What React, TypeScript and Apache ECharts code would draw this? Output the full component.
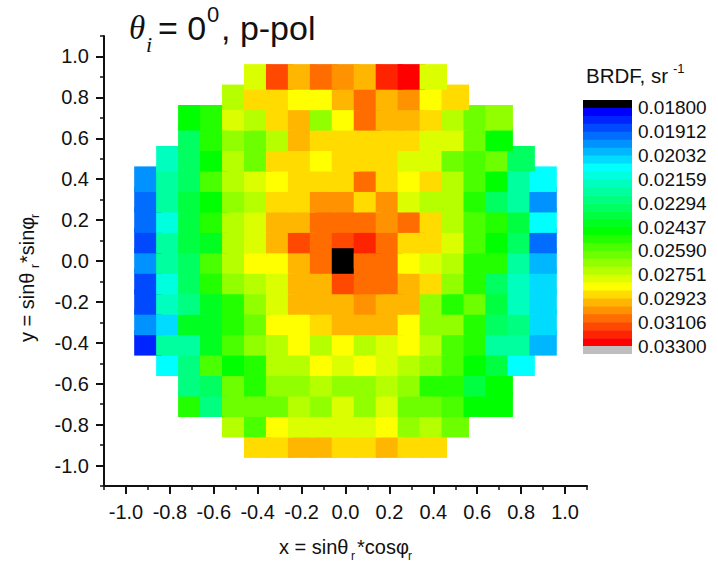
import React, { useEffect, useRef } from "react";
import * as echarts from "echarts";

// BRDF values in units of 1e-5 sr^-1, one list per scan row, centred on x = 0, step 0.1
const rowP09 = [2779, 3138, 2953, 3075, 3013, 2953, 3202, 3267, 2779];
const rowP08 = [2724, 2894, 2894, 2836, 2836, 2953, 3075, 2953, 3013, 2836, 2894];
const rowP07 = [2462, 2512, 2779, 2724, 2894, 2953, 2669, 2836, 3075, 2953, 2953, 2894, 2724, 2616, 2669];
const rowP06 = [2317, 2512, 2669, 2616, 2724, 2953, 2894, 2894, 2894, 2894, 2894, 2779, 2779, 2616, 2462];
const rowP05 = [2181, 2317, 2462, 2724, 2616, 2894, 2894, 2836, 2894, 2894, 2894, 2779, 2779, 2616, 2564, 2616, 2317];
const rowP04 = [1971, 2225, 2317, 2564, 2724, 2779, 2836, 2894, 2894, 2894, 3075, 2894, 2836, 2894, 2724, 2564, 2462, 2225, 2095];
const rowP03 = [1932, 2225, 2365, 2462, 2669, 2724, 2894, 2894, 3013, 3013, 2894, 3013, 2779, 2724, 2724, 2512, 2317, 2225, 1971];
const rowP02 = [1932, 2137, 2365, 2512, 2724, 2779, 2953, 2953, 3075, 3075, 3075, 3013, 3075, 2894, 2724, 2564, 2512, 2365, 2095];
const rowP01 = [1893, 2225, 2365, 2413, 2724, 2779, 2953, 3138, 3075, 3138, 3202, 3075, 2894, 2894, 2779, 2564, 2462, 2317, 1932];
const rowZ00 = [1971, 2225, 2317, 2564, 2724, 2836, 2836, 2953, 3075, 1700, 3075, 3075, 2836, 2779, 2724, 2512, 2512, 2225, 2012];
const rowM01 = [1893, 2137, 2317, 2512, 2669, 2724, 2779, 2953, 2953, 3138, 3075, 3075, 2953, 2894, 2669, 2512, 2317, 2181, 2053];
const rowM02 = [1893, 2181, 2271, 2413, 2512, 2669, 2779, 2953, 2953, 2953, 3013, 2953, 2953, 2669, 2512, 2616, 2365, 2181, 2053];
const rowM03 = [1971, 2053, 2413, 2413, 2512, 2616, 2836, 2836, 2894, 2953, 2953, 2953, 2836, 2669, 2669, 2512, 2317, 2271, 2053];
const rowM04 = [1855, 2225, 2225, 2413, 2564, 2669, 2724, 2836, 2724, 2836, 2724, 2779, 2836, 2724, 2564, 2512, 2225, 2225, 2012];
const rowM05 = [2095, 2271, 2564, 2462, 2512, 2724, 2724, 2836, 2779, 2836, 2779, 2724, 2669, 2564, 2462, 2365, 2095];
const rowM06 = [2271, 2317, 2616, 2512, 2669, 2669, 2724, 2669, 2669, 2724, 2669, 2512, 2512, 2365, 2462];
const rowM07 = [2512, 2271, 2616, 2616, 2616, 2724, 2669, 2779, 2669, 2779, 2616, 2616, 2564, 2462, 2462];
const rowM08 = [2724, 2564, 2836, 2779, 2779, 2779, 2779, 2836, 2669, 2724, 2616];
const rowM09 = [2894, 2894, 2953, 2953, 2894, 2894, 2953, 2894, 2894];

// bottom row first: later rows paint over the upper overhang of earlier ones
const rowsBottomUp = [rowM09, rowM08, rowM07, rowM06, rowM05, rowM04, rowM03, rowM02, rowM01, rowZ00, rowP01, rowP02, rowP03, rowP04, rowP05, rowP06, rowP07, rowP08, rowP09];
const rowY = [-0.9, -0.8, -0.7, -0.6, -0.5, -0.4, -0.3, -0.2, -0.1, 0, 0.1, 0.2, 0.3, 0.4, 0.5, 0.6, 0.7, 0.8, 0.9];

const majorTicks = [-1, -0.8, -0.6, -0.4, -0.2, 0, 0.2, 0.4, 0.6, 0.8, 1];
const scaleLabels = ["0.01800", "0.01912", "0.02032", "0.02159", "0.02294", "0.02437", "0.02590", "0.02751", "0.02923", "0.03106", "0.03300"];
const scaleLabelAt = [1, 4, 7, 10, 13, 16, 19, 22, 25, 28, 31];
const palette = [
  "#0000ff", "#0024ff", "#0049ff", "#006dff", "#0092ff", "#00b6ff", "#00dbff", "#00ffff",
  "#00ffdf", "#00ffbf", "#00ff9f", "#00ff80", "#00ff60", "#00ff40", "#00ff20", "#00ff00",
  "#24ff00", "#49ff00", "#6dff00", "#92ff00", "#b6ff00", "#dbff00", "#ffff00", "#ffdb00",
  "#ffb600", "#ff9200", "#ff6d00", "#ff4900", "#ff2400", "#ff0000",
];
const belowColor = "#000000";
const aboveColor = "#bebebe";
const scaleMin = 0.018;
const scaleMax = 0.033;

const colourOf = (v: number) => {
  if (v < scaleMin) return belowColor;
  if (v > scaleMax) return aboveColor;
  const i = Math.floor((Math.log(v / scaleMin) / Math.log(scaleMax / scaleMin)) * palette.length);
  return palette[Math.min(i, palette.length - 1)];
};

const cells: number[][] = [];
const blackCells: number[][] = [];
rowsBottomUp.forEach((row, r) => {
  row.forEach((v, i) => {
    const item = [(i - (row.length - 1) / 2) / 10, rowY[r], v / 1e5];
    (v / 1e5 < scaleMin ? blackCells : cells).push(item);
  });
});
const plotted = [...cells, ...blackCells];
const bandColours = [belowColor, ...palette, aboveColor];
const bands = bandColours.map((_, i) => [0, i]);

const HALF = 0.0625;
const STEP_VISIBLE = 0.0375;

const FONT = "'Liberation Sans', Arial, sans-serif";
const INK = "#111111";

// x, baseline y in picture pixels; text is placed by its top
const label = (text: string, x: number, y: number, size: number, extra: any = {}) => ({
  type: "text",
  x,
  y: y - size * 0.88,
  silent: true,
  style: { text, fontSize: size, fontFamily: FONT, fill: INK, ...extra },
});

const serifItalic = { fontFamily: "'Liberation Serif', 'Times New Roman', serif", fontStyle: "italic" };

const baseAxis = {
  type: "value" as const,
  min: -1.1,
  max: 1.1,
  splitLine: { show: false },
};

export default function App() {
  const ref = useRef<HTMLDivElement>(null);
  useEffect(() => {
    document.body.style.margin = "0";
    document.body.style.background = "#ffffff";
    const chart = echarts.init(ref.current!, undefined, { renderer: "svg" });
    const majorLine = { show: true, onZero: false, lineStyle: { color: INK, width: 2 } };
    const majorTick = { show: true, length: 8, customValues: majorTicks, lineStyle: { color: INK, width: 2 } };
    const minorTick = { show: true, length: 4, lineStyle: { color: INK, width: 1.5 } };
    const tickLabel = {
      show: true,
      customValues: majorTicks,
      fontSize: 20,
      fontFamily: FONT,
      color: INK,
      formatter: (v: number) => v.toFixed(1),
    };
    chart.setOption({
      animation: false,
      backgroundColor: "#ffffff",
      grid: [
        { left: 104, top: 36, width: 483, height: 450, containLabel: false },
        { left: 583, top: 100, width: 49, height: 254, containLabel: false },
      ],
      xAxis: [
        { ...baseAxis, gridIndex: 0, position: "bottom", axisLine: majorLine, axisTick: majorTick, axisLabel: { ...tickLabel, margin: 16 } },
        { ...baseAxis, gridIndex: 0, position: "bottom", interval: 0.1, axisLine: { show: false, onZero: false }, axisTick: minorTick, axisLabel: { show: false } },
        { type: "value", gridIndex: 1, min: 0, max: 1, show: false, splitLine: { show: false } },
      ],
      yAxis: [
        { ...baseAxis, gridIndex: 0, position: "left", axisLine: majorLine, axisTick: majorTick, axisLabel: { ...tickLabel, margin: 15 } },
        { ...baseAxis, gridIndex: 0, position: "left", interval: 0.1, axisLine: { show: false, onZero: false }, axisTick: minorTick, axisLabel: { show: false } },
        {
          type: "value",
          gridIndex: 1,
          min: 0,
          max: bandColours.length,
          inverse: true,
          position: "right",
          splitLine: { show: false },
          axisLine: { show: false },
          axisTick: { show: false },
          axisLabel: {
            show: true,
            customValues: scaleLabelAt,
            margin: 6,
            padding: [8, 0, 0, 0],
            fontSize: 19,
            fontFamily: FONT,
            color: INK,
            formatter: (v: number) => scaleLabels[scaleLabelAt.indexOf(Math.round(v))] ?? "",
          },
        },
      ],
      series: [
        {
          type: "custom",
          xAxisIndex: 0,
          yAxisIndex: 0,
          coordinateSystem: "cartesian2d",
          clip: false,
          silent: true,
          encode: { x: 0, y: 1 },
          data: plotted,
          renderItem: (_: any, api: any) => {
            const x = api.value(0);
            const y = api.value(1);
            const v = api.value(2);
            const right = v < scaleMin ? STEP_VISIBLE : HALF;
            const a = api.coord([x - HALF, y + HALF]);
            const b = api.coord([x + right, y - HALF]);
            return {
              type: "rect",
              shape: { x: a[0], y: a[1], width: b[0] - a[0], height: b[1] - a[1] },
              style: { fill: colourOf(v), stroke: "none" },
            };
          },
        },
        {
          type: "custom",
          xAxisIndex: 2,
          yAxisIndex: 2,
          coordinateSystem: "cartesian2d",
          clip: false,
          silent: true,
          encode: { x: 0, y: 1 },
          data: bands,
          renderItem: (_: any, api: any) => {
            const i = api.value(1);
            const a = api.coord([0, i]);
            const b = api.coord([1, i + 1]);
            return {
              type: "rect",
              shape: { x: a[0], y: a[1], width: b[0] - a[0], height: b[1] - a[1] + (i < bandColours.length - 1 ? 0.6 : 0) },
              style: { fill: bandColours[i], stroke: "none" },
            };
          },
        },
      ],
      graphic: [
        label("\u03b8", 129, 41, 33, serifItalic),
        label("i", 146, 53, 22, serifItalic),
        label("= 0", 158, 41, 34),
        label("0", 207, 23, 22),
        label(", p-pol", 221, 41, 34),
        label("BRDF, sr", 586, 83, 20.5),
        label("-1", 673, 73, 13),
        label("x = sin\u03b8", 279, 555, 20),
        label("r", 351, 561, 12),
        label("*cos\u03c6", 357, 555, 20),
        label("r", 408, 561, 12),
        {
          type: "group",
          x: 35,
          y: 342,
          rotation: Math.PI / 2,
          children: [
            label("y = sin\u03b8", 0, 0, 20),
            label("r", 74, 5, 12),
            label("*sin\u03c6", 79, 0, 20),
            label("r", 124, 5, 12),
          ],
        },
      ],
    });
    return () => chart.dispose();
  }, []);
  return <div ref={ref} style={{ width: 718, height: 563 }} />;
}
